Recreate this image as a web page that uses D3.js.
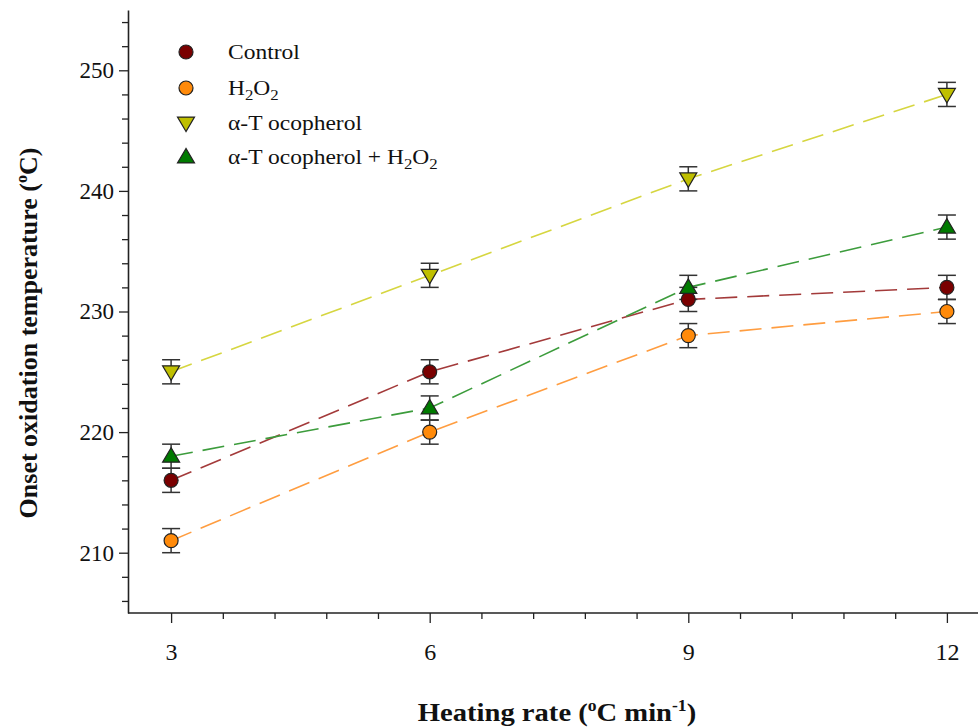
<!DOCTYPE html>
<html><head><meta charset="utf-8">
<script src="https://cdn.jsdelivr.net/npm/d3@7"></script>
<style>body{margin:0;background:#fff}svg{display:block}</style>
</head><body>
<svg id="c" width="978" height="727"></svg>
<script>
const rates = [3, 6, 9, 12];
const control = [216, 225, 231, 232];
const h2o2 = [211, 220, 228, 230];
const tocopherol = [225, 233, 241, 248];
const tocoH2o2 = [218, 222, 232, 237];
const errControl = [1, 1, 1, 1];
const errH2o2 = [1, 1, 1, 1];
const errToco = [1, 1, 1, 1];
const errTocoH2o2 = [1, 1, 1, 1];
const xTicks = [3, 6, 9, 12];
const yTicks = [210, 220, 230, 240, 250];

const series = [
  {name:"Control", vals:control, err:errControl, shape:"circle", fill:"#7a0000", line:"#a33a3a"},
  {name:"H2O2", vals:h2o2, err:errH2o2, shape:"circle", fill:"#ff8a0a", line:"#ff9d40"},
  {name:"α-Tocopherol", vals:tocopherol, err:errToco, shape:"down", fill:"#bfbf00", line:"#d6d640"},
  {name:"α-Tocopherol + H2O2", vals:tocoH2o2, err:errTocoH2o2, shape:"up", fill:"#007a00", line:"#3c9c3c"}
];

const svg = d3.select("#c");
const x = d3.scaleLinear().domain([2.5, 12.5]).range([128, 990]);
const y = d3.scaleLinear().domain([205, 255]).range([613, 10]);
const font = "'Liberation Serif','Times New Roman',serif";

// axes
const xMinor = d3.range(3, 12.61, 0.6).filter(v => !xTicks.some(t => Math.abs(t - v) < 1e-6));
const yMinor = d3.range(206, 255, 2).filter(v => v % 10 !== 0);

const gx = svg.append("g").attr("transform", "translate(0,613)");
gx.call(d3.axisBottom(x).tickValues(xTicks).tickSize(10).tickSizeOuter(0).tickPadding(20).tickFormat(d3.format("d")));
gx.append("g").call(d3.axisBottom(x).tickValues(xMinor).tickSize(6).tickSizeOuter(0).tickFormat(""))
  .select(".domain").remove();
gx.select(".domain").attr("d", "M128,0H978");

const gy = svg.append("g").attr("transform", "translate(128,0)");
gy.call(d3.axisLeft(y).tickValues(yTicks).tickSize(9).tickSizeOuter(0).tickPadding(5).tickFormat(d3.format("d")));
gy.append("g").call(d3.axisLeft(y).tickValues(yMinor).tickSize(6).tickSizeOuter(0).tickFormat(""))
  .select(".domain").remove();

svg.selectAll(".domain").attr("stroke", "#222").attr("stroke-width", 1.6);
svg.selectAll(".tick line").attr("stroke", "#222").attr("stroke-width", 1.3);
svg.selectAll(".tick text").attr("font-family", font).attr("font-size", 23).attr("fill", "#111");
gx.selectAll(".tick text").attr("font-size", 24);

// lines
const lineGen = d3.line().x((d, i) => x(rates[i])).y(d => y(d));
series.forEach(s => {
  svg.append("path").datum(s.vals).attr("d", lineGen)
    .attr("fill", "none").attr("stroke", s.line).attr("stroke-width", 1.6)
    .attr("stroke-dasharray", "22,10");
});

// error bars
series.forEach(s => {
  const g = svg.append("g").attr("stroke", "#333").attr("stroke-width", 1.5);
  s.vals.forEach((v, i) => {
    const cx = x(rates[i]);
    g.append("line").attr("x1", cx).attr("x2", cx).attr("y1", y(v - s.err[i])).attr("y2", y(v + s.err[i]));
    [v - s.err[i], v + s.err[i]].forEach(e => {
      g.append("line").attr("x1", cx - 9).attr("x2", cx + 9).attr("y1", y(e)).attr("y2", y(e));
    });
  });
});

function marker(g, shape, cx, cy, fill) {
  if (shape === "circle") {
    g.append("circle").attr("cx", cx).attr("cy", cy).attr("r", 7)
      .attr("fill", fill).attr("stroke", "#222").attr("stroke-width", 1.2);
  } else {
    const s = 8.5;
    const pts = shape === "up"
      ? [[cx, cy - s], [cx - s, cy + s * 0.7], [cx + s, cy + s * 0.7]]
      : [[cx, cy + s], [cx - s, cy - s * 0.7], [cx + s, cy - s * 0.7]];
    g.append("polygon").attr("points", pts.map(p => p.join(",")).join(" "))
      .attr("fill", fill).attr("stroke", "#222").attr("stroke-width", 1.2);
  }
}

series.forEach(s => {
  const g = svg.append("g");
  s.vals.forEach((v, i) => marker(g, s.shape, x(rates[i]), y(v), s.fill));
});

// legend
const legY = [52, 88, 123, 157];
series.forEach((s, i) => {
  const g = svg.append("g");
  marker(g, s.shape, 186, legY[i], s.fill);
  const t = g.append("text").attr("transform", `translate(228,${legY[i] + 7}) scale(1.12,1)`)
    .attr("font-family", font).attr("font-size", 21).attr("fill", "#111");
  const sub = 15;
  if (s.name === "H2O2") {
    t.append("tspan").text("H");
    t.append("tspan").text("2").attr("font-size", sub).attr("dy", 5);
    t.append("tspan").text("O").attr("dy", -5);
    t.append("tspan").text("2").attr("font-size", sub).attr("dy", 5);
  } else if (s.name === "α-Tocopherol + H2O2") {
    t.append("tspan").text("α-T ocopherol + H");
    t.append("tspan").text("2").attr("font-size", sub).attr("dy", 5);
    t.append("tspan").text("O").attr("dy", -5);
    t.append("tspan").text("2").attr("font-size", sub).attr("dy", 5);
  } else if (s.name === "α-Tocopherol") {
    t.text("α-T ocopherol");
  } else {
    t.text(s.name);
  }
});

// axis titles
const xt = svg.append("text").attr("transform", "translate(557,721) scale(1.1,1)").attr("text-anchor", "middle")
  .attr("font-family", font).attr("font-size", 26).attr("font-weight", "bold").attr("fill", "#111");
xt.append("tspan").text("Heating rate (");
xt.append("tspan").text("o").attr("font-size", 16).attr("dy", -10);
xt.append("tspan").text("C min").attr("dy", 10);
xt.append("tspan").text("-1").attr("font-size", 16).attr("dy", -10);
xt.append("tspan").text(")").attr("dy", 10);

const yt = svg.append("text").attr("transform", "translate(37,333) rotate(-90)").attr("text-anchor", "middle")
  .attr("font-family", font).attr("font-size", 26).attr("font-weight", "bold").attr("fill", "#111");
yt.append("tspan").text("Onset oxidation temperature (");
yt.append("tspan").text("o").attr("font-size", 16).attr("dy", -10);
yt.append("tspan").text("C)").attr("dy", 10);
</script>
</body></html>
